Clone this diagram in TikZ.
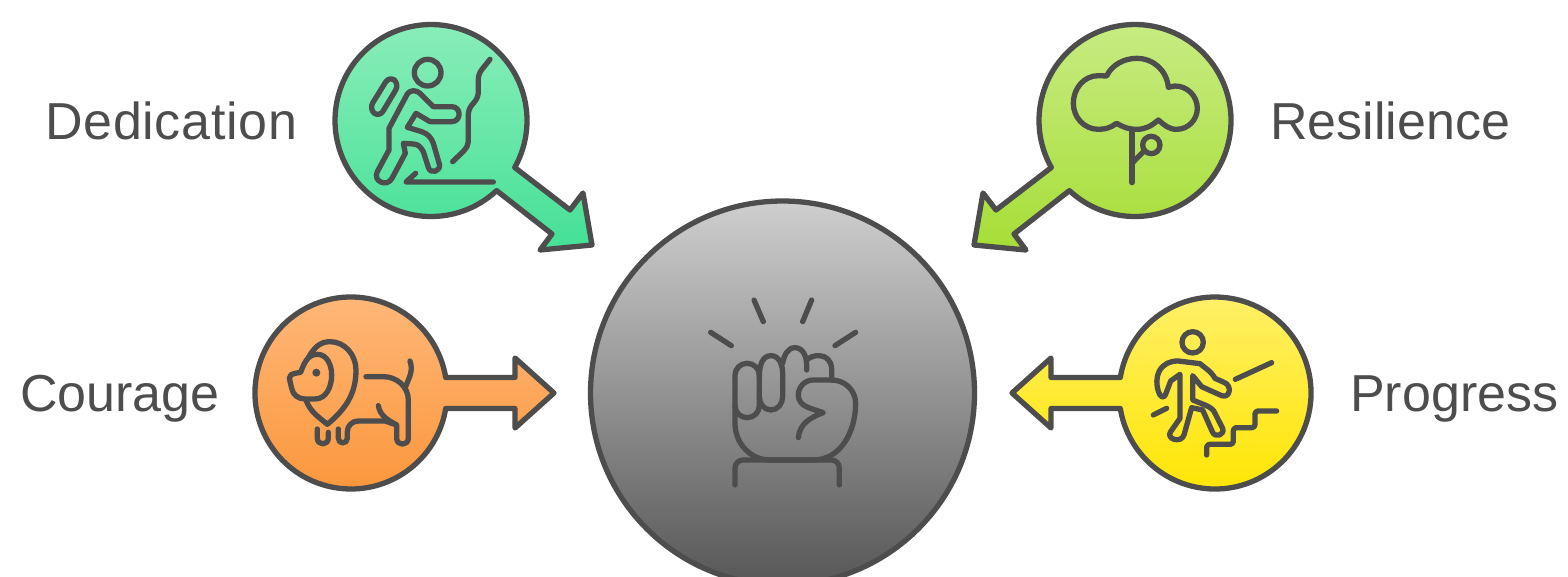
\documentclass[tikz,border=0pt]{standalone}
\usepackage{fontspec}
\setmainfont{Liberation Sans}
\definecolor{inkgray}{HTML}{4D4D4D}
\tikzset{
  badge/.style={draw=inkgray,line width=5.3pt,line join=round},
  icon/.style={draw=inkgray,line width=5.3pt,line cap=round,line join=round},
  caption/.style={anchor=base west,inner sep=0pt,text=inkgray,font=\fontsize{52}{60}\selectfont}
}
\begin{document}
\begin{tikzpicture}[x=1pt,y=-1pt]
    \clip (0,0) rectangle (1568,576);
    % hub
    \path[badge,top color=black!19,bottom color=black!66] (782.5,393) circle [radius=192];
    % the four arrows
    \path[badge,top color={rgb,255:red,140;green,238;blue,187},bottom color={rgb,255:red,68;green,224;blue,150}]
        (496.6,190.6) arc [start angle=46.9,end angle=389.3,radius=96] -- (570,210) -- (583,193) -- (592,245) -- (540,250) -- (552,234) -- cycle;
    \path[badge,top color={rgb,255:red,201;green,236;blue,134},bottom color={rgb,255:red,166;green,222;blue,54}]
        (1051.3,167.5) arc [start angle=150.7,end angle=493.1,radius=96] -- (1014,234) -- (1026,250) -- (974,245) -- (983,193) -- (996,210) -- cycle;
    \path[badge,top color={rgb,255:red,255;green,184;blue,122},bottom color={rgb,255:red,251;green,150;blue,58}]
        (445.7,408.5) arc [start angle=9.3,end angle=350.7,radius=96] -- (515,377.5) -- (515,358) -- (554,393) -- (515,428) -- (515,408.5) -- cycle;
    \path[badge,top color={rgb,255:red,255;green,240;blue,106},bottom color={rgb,255:red,255;green,229;blue,0}]
        (1120.3,377.5) arc [start angle=189.3,end angle=530.7,radius=96] -- (1051,408.5) -- (1051,428) -- (1012,393) -- (1051,358) -- (1051,377.5) -- cycle;
    % labels
    \node[caption] (dedication) at (45,139) {\addfontfeature{LetterSpace=1.4}Dedication};
    \node[caption] (resilience) at (1270,139) {Resilience};
    \node[caption] (courage) at (20,411) {Courage};
    \node[caption] (progress) at (1350,411) {Progress};
    % climber
    \begin{scope}[shift={(320,10)},x=.3333pt,y=-.3333pt]
        \draw[icon] (323,188) circle [radius=40];
        \draw[icon,rounded corners=7pt] (208,198) -- (238,222) -- (178,322) -- (147,297) -- cycle;
        \draw[icon] (340,290) -- (395,290) to[out=0,in=0,looseness=1.7] (395,335) -- (330,335) -- (288,310) -- (262,352) -- (305,365) to[out=-20,in=110] (340,400) -- (358,462)
            to[out=-75,in=-75,looseness=1.7] (325,472) -- (310,425) to[out=120,in=0] (280,402) -- (250,400) -- (256,430) -- (216,505)
            to[out=-118,in=-118,looseness=1.7] (172,485) -- (207,420) -- (207,355) -- (262,252) to[out=60,in=135] (300,250) -- cycle;
        \draw[icon,rounded corners=5pt] (510,148) -- (475,192) -- (475,262) -- (445,298) -- (445,380) to[out=-90,in=45] (398,455);
        \draw[icon] (520,516) -- (258,516) -- (287,490);
    \end{scope}
    % tree
    \begin{scope}[shift={(960,10)},x=.3333pt,y=-.3333pt]
        \draw[icon] (470,340) to[out=215,in=0] (415,358) to[out=180,in=270] (340,280) to[out=90,in=180] (415,197) -- (440,198)
            to[out=66,in=180,looseness=.9] (530,145) to[out=0,in=95] (625,232) -- (645,228) to[out=0,in=90] (712,295) to[out=270,in=0] (650,358) to[out=180,in=-40] (595,330)
            to[out=220,in=0] (530,358) to[out=180,in=-30] cycle;
        \draw[icon] (516,358) -- (516,518);
        \draw[icon] (516,460) -- (553,422);
        \draw[icon] (574,405) circle [radius=26];
    \end{scope}
    % lion
    \begin{scope}[shift={(240,285)},x=.3333pt,y=-.3333pt]
        \draw[icon] (205,218) to[out=60,in=180] (270,170) to[out=0,in=90] (348,255) to[out=270,in=40] (262,418) to[out=140,in=-70] (198,345);
        \draw[icon] (182,262) to[out=70,in=180] (232,208) to[out=0,in=90] (275,270) to[out=270,in=0] (225,342) -- (195,342) to[out=180,in=-80] (155,310) -- (148,280) to[out=90,in=180] (165,265) -- cycle;
        \fill[inkgray] (229,263) circle [radius=12];
        \draw[icon] (378,275) -- (430,275) to[out=0,in=90] (505,345) -- (505,460) to[out=-90,in=-90,looseness=1.7] (470,460) -- (470,420) -- (435,408) -- (355,408) to[out=180,in=90] (322,440) -- (322,460) to[out=-90,in=-90,looseness=1.7] (295,460) -- (295,432);
        \draw[icon] (510,228) to[out=-70,in=70] (495,310);
        \draw[icon] (415,362) to[out=-80,in=150] (470,420);
        \draw[icon] (232,432) -- (232,460) to[out=-90,in=-90,looseness=1.7] (265,460) -- (265,442);
    \end{scope}
    % walker on stairs
    \begin{scope}[shift={(1000,285)},x=.3333pt,y=-.3333pt]
        \draw[icon] (578,172) circle [radius=32];
        \draw[icon] (540,268) -- (540,400) -- (512,440) to[out=-125,in=-107,looseness=1.7] (552,450) -- (575,368) -- (608,375) -- (637,440)
            to[out=-70,in=-70,looseness=1.7] (668,430) -- (645,385) to[out=110,in=-30] (620,362) -- (578,345) -- (578,272) -- (605,305) -- (665,332)
            to[out=-20,in=-20,looseness=1.7] (672,292) -- (645,280) to[out=120,in=-40] (600,236) -- (535,228) to[out=180,in=60] (478,258)
            to[out=-120,in=-110,looseness=1.5] (498,325) -- (512,288) -- cycle;
        \draw[icon] (706,283) -- (815,233);
        \draw[icon] (460,390) -- (500,370);
        \draw[icon,rounded corners=3pt] (620,510) -- (620,478) -- (700,478) -- (700,428) -- (765,428) -- (765,378) -- (830,378);
    \end{scope}
    % fist
    \begin{scope}[shift={(690,285)},x=.3333pt,y=-.3333pt]
        \draw[icon] (62,142) -- (124,182);
        \draw[icon] (192,45) -- (220,110);
        \draw[icon] (365,45) -- (338,110);
        \draw[icon] (497,142) -- (435,182);
        \draw[icon,rounded corners=12pt] (135,235) rectangle (208,398);
        \draw[icon] (208,275) to[out=90,in=180] (243,212) to[out=0,in=90] (278,265) -- (278,335) to[out=-90,in=0] (243,375) to[out=180,in=-90] (208,335);
        \draw[icon] (278,235) to[out=80,in=180] (315,188) to[out=0,in=90] (350,240) -- (350,255);
        \draw[icon] (350,225) to[out=40,in=180] (388,212) to[out=0,in=90] (425,250) -- (425,285);
        \draw[icon] (425,285) -- (370,285) to[out=180,in=90] (325,330) to[out=-90,in=160] (400,383) to[out=200,in=85] (325,458);
        \draw[icon] (425,285) to[out=0,in=90] (497,355) to[out=-90,in=0] (370,525) -- (240,525) to[out=180,in=-90] (135,415) -- (135,360);
        \draw[icon,rounded corners=8pt] (135,600) -- (135,525) -- (448,525) -- (448,600);
    \end{scope}
\end{tikzpicture}
\end{document}
